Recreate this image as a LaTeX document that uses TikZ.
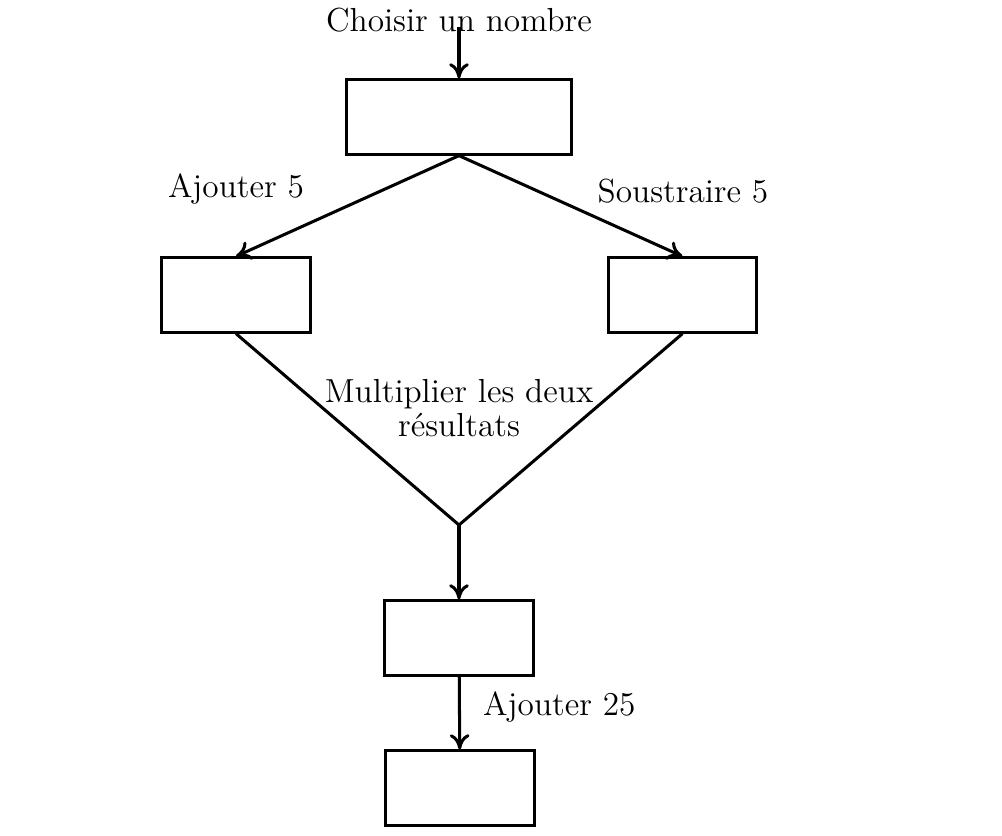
\documentclass[tikz,border=0pt]{standalone}
\usetikzlibrary{arrows.meta}

\begin{document}
\begin{tikzpicture}[
  x=0.33pt, y=-0.33pt,
  every node/.style={font=\fontsize{11}{11}\selectfont},
  box/.style={draw, line width=1pt, minimum width=#1, minimum height=24.5pt, inner sep=0pt},
  box/.default=49pt,
  arr/.style={-{To[length=5pt,width=6.5pt]}, line width=1pt},
  lien/.style={line width=1pt}
]
\useasboundingbox (0,0) rectangle (1002,836);

\node[box=74pt] (depart) at (459,117) {};
\node[box] (gauche) at (236,295) {};
\node[box] (droite) at (682.5,295) {};
\node[box] (produit) at (459,638) {};
\node[box] (fin) at (460,788) {};

\coordinate (entree) at (459,27);
\coordinate (jonction) at (459,525);

\node (choix) at (459,20) {Choisir un nombre};
\node (ajout) at (236,189) {Ajouter 5};
\node (retrait) at (683,191) {Soustraire 5};
\node[align=center] (mult) at (459,408) {Multiplier les deux\\résultats};

\draw[arr] (entree) -- (depart);
\draw[arr] (depart.south) -- (gauche.north);
\draw[arr] (depart.south) -- (droite.north);
\draw[lien] (gauche.south) -- (jonction) -- (droite.south);
\draw[arr] (jonction) -- (produit);
\draw[arr] (produit) -- node[right, xshift=4pt, yshift=2pt] {Ajouter 25} (fin);
\end{tikzpicture}
\end{document}
